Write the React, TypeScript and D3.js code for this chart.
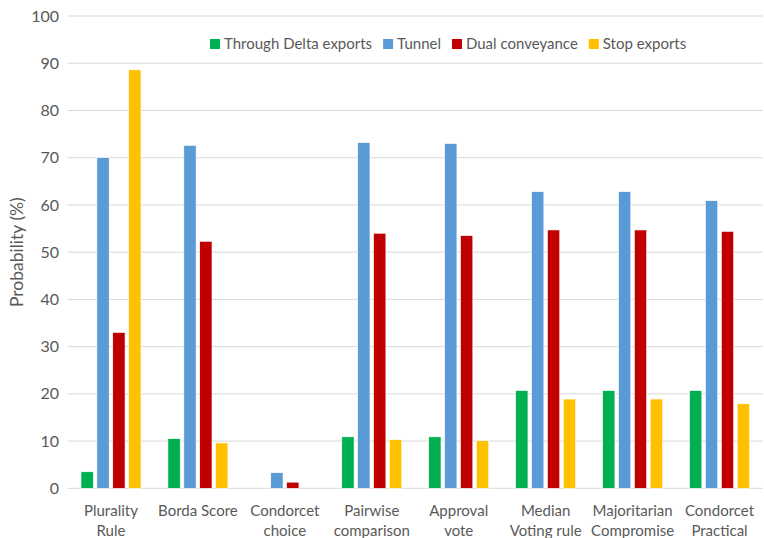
import React from "react";
import * as d3 from "d3";

// Voting rules along the x axis (each entry is one or two label lines)
const categories: string[][] = [
  ["Plurality", "Rule"],
  ["Borda Score"],
  ["Condorcet", "choice"],
  ["Pairwise", "comparison"],
  ["Approval", "vote"],
  ["Median", "Voting rule"],
  ["Majoritarian", "Compromise"],
  ["Condorcet", "Practical"],
];

const seriesNames = ["Through Delta exports", "Tunnel", "Dual conveyance", "Stop exports"];
const seriesColors = ["#00B050", "#5B9BD5", "#C00000", "#FFC000"];

// Probability (%) per voting rule, one array per option
const throughDelta = [3.5, 10.5, 0, 10.9, 10.9, 20.7, 20.7, 20.7];
const tunnel = [70.0, 72.6, 3.3, 73.2, 73.0, 62.8, 62.8, 60.9];
const dualConveyance = [33.0, 52.3, 1.3, 54.0, 53.5, 54.7, 54.7, 54.4];
const stopExports = [88.6, 9.6, 0, 10.3, 10.1, 18.9, 18.9, 17.9];

const yTicks = [0, 10, 20, 30, 40, 50, 60, 70, 80, 90, 100];

const W = 764;
const H = 538;
const FONT = "Lato, 'Open Sans', sans-serif";
const TEXT = "#595959";

export default function App() {
  const values = [throughDelta, tunnel, dualConveyance, stopExports];
  const catKeys = categories.map((c) => c.join(" "));

  const x0 = d3
    .scaleBand<string>()
    .domain(catKeys)
    .range([67.5, 763])
    .paddingInner(0.31)
    .paddingOuter(0.155);
  const x1 = d3
    .scaleBand<string>()
    .domain(seriesNames)
    .range([0, x0.bandwidth()])
    .paddingInner(0.226);
  const y = d3.scaleLinear().domain([0, 100]).range([488.3, 16]);

  const legendRef = React.useRef<SVGGElement>(null);
  React.useEffect(() => {
    const g = d3.select(legendRef.current);
    let cx = 210;
    g.selectAll<SVGGElement, unknown>("g.item").each(function () {
      const item = d3.select(this);
      item.attr("transform", `translate(${cx},0)`);
      const t = item.select<SVGTextElement>("text").node();
      const w = t ? t.getComputedTextLength() : 0;
      cx += 14 + w + 11;
    });
  }, []);

  return (
    <svg width={W} height={H} style={{ position: "absolute", left: 0, top: 0 }}>
      <rect width={W} height={H} fill="#ffffff" />
      {/* horizontal gridlines */}
      {yTicks.map((t) => (
        <line
          key={t}
          x1={67.5}
          x2={763}
          y1={y(t)}
          y2={y(t)}
          stroke="#d9d9d9"
          strokeWidth={1}
        />
      ))}
      {/* y tick labels */}
      {yTicks.map((t) => (
        <text
          key={"l" + t}
          x={59}
          y={y(t)}
          dy="0.35em"
          textAnchor="end"
          fontFamily={FONT}
          fontSize={16}
          fill={TEXT}
        >
          {t}
        </text>
      ))}
      {/* y axis title */}
      <text
        transform={`translate(23,${y(50)}) rotate(-90)`}
        textAnchor="middle"
        fontFamily={FONT}
        fontSize={17.5}
        fill={TEXT}
      >
        Probability (%)
      </text>
      {/* bars */}
      {categories.map((c, i) => (
        <g key={catKeys[i]} transform={`translate(${x0(catKeys[i])},0)`}>
          {seriesNames.map((s, j) =>
            values[j][i] > 0 ? (
              <rect
                key={s}
                x={x1(s)}
                y={y(values[j][i])}
                width={x1.bandwidth()}
                height={y(0) - y(values[j][i])}
                fill={seriesColors[j]}
                stroke="#ffffff"
                strokeWidth={0.6}
              />
            ) : null
          )}
        </g>
      ))}
      {/* category labels */}
      {categories.map((c, i) => (
        <text
          key={"c" + i}
          x={(x0(catKeys[i]) as number) + x0.bandwidth() / 2}
          textAnchor="middle"
          fontFamily={FONT}
          fontSize={15}
          fill={TEXT}
        >
          {c.map((line, k) => (
            <tspan
              key={k}
              x={(x0(catKeys[i]) as number) + x0.bandwidth() / 2}
              y={511 + k * 20}
              dy="0.35em"
            >
              {line}
            </tspan>
          ))}
        </text>
      ))}
      {/* legend */}
      <g ref={legendRef} transform="translate(0,44)">
        {seriesNames.map((s, j) => (
          <g className="item" key={s}>
            <rect x={0} y={-5} width={10} height={10} fill={seriesColors[j]} />
            <text
              x={14}
              y={0}
              dy="0.35em"
              fontFamily={FONT}
              fontSize={15}
              fill={TEXT}
            >
              {s}
            </text>
          </g>
        ))}
      </g>
    </svg>
  );
}
